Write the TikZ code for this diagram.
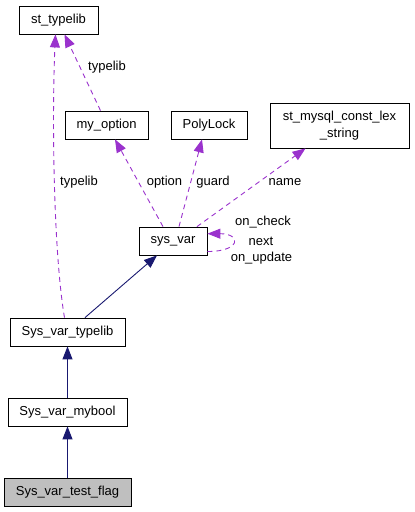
\documentclass[tikz,border=0pt]{standalone}
\usepackage{fontspec}
\setmainfont{Liberation Sans}
\usetikzlibrary{arrows.meta}
\definecolor{viola}{HTML}{9A32CD}
\definecolor{notte}{HTML}{191970}
\definecolor{grigio}{HTML}{BFBFBF}

\begin{document}
\begin{tikzpicture}[x=1pt, y=-1pt,
    classe/.style={draw=black, line width=0.8pt, fill=white, inner sep=0pt, minimum height=28pt, align=center, font=\fontsize{13}{17}\selectfont},
    etichetta/.style={inner sep=0pt, font=\fontsize{13}{15}\selectfont},
    dipende/.style={draw=viola, line width=0.9pt, dash pattern=on 5pt off 4pt, -{Triangle[length=13pt,width=10pt]}},
    eredita/.style={draw=notte, line width=0.9pt, -{Triangle[length=13pt,width=10pt]}}]
        \useasboundingbox (0,0) rectangle (415,512);

        % Nodi
        \node[classe, minimum width=79pt] (sttypelib) at (58.5,20) {st\_typelib};
        \node[classe, minimum width=83pt] (myoption) at (106.5,125) {my\_option};
        \node[classe, minimum width=76pt] (polylock) at (209,125) {PolyLock};
        \node[classe, minimum width=139pt, minimum height=45pt] (stmysql) at (339.5,125.5) {st\_mysql\_const\_lex\\\_string};
        \node[classe, minimum width=68pt] (sysvar) at (173,241) {sys\_var};
        \node[classe, minimum width=115pt] (svtypelib) at (67.5,332) {Sys\_var\_typelib};
        \node[classe, minimum width=119pt] (svmybool) at (67.5,412) {Sys\_var\_mybool};
        \node[classe, fill=grigio, minimum width=127pt] (svtestflag) at (67.5,492) {Sys\_var\_test\_flag};

        % Etichette
        \node[etichetta] (lbltypelibA) at (107,67) {typelib};
        \node[etichetta] (lbltypelibB) at (79,182) {typelib};
        \node[etichetta] (lbloption) at (164.5,182) {option};
        \node[etichetta] (lblguard) at (213,182) {guard};
        \node[etichetta] (lblname) at (285,182) {name};
        \node[etichetta] (lbloncheck) at (263,222) {on\_check};
        \node[etichetta] (lblnext) at (261,241) {next};
        \node[etichetta] (lblonupdate) at (261.5,258) {on\_update};

        % Archi
        \draw[dipende] ([xshift=-6pt]myoption.north) -- ([xshift=6pt]sttypelib.south); % da my_option a st_typelib
        \draw[dipende] ([xshift=-3pt]svtypelib.north) .. controls (53,250) and (52,110) .. ([xshift=-3pt]sttypelib.south);
        \draw[dipende] ([xshift=-10pt]sysvar.north) -- ([xshift=8.5pt]myoption.south);
        \draw[dipende] ([xshift=6pt]sysvar.north) -- ([xshift=-7pt]polylock.south);
        \draw[dipende] ([xshift=24pt]sysvar.north) -- ([xshift=-34pt]stmysql.south);
        \draw[dipende] (sysvar.-17) .. controls +(34,0) and +(34,0) .. (sysvar.12); % anello su sys_var
        \draw[eredita] ([xshift=17.5pt]svtypelib.north) -- ([xshift=-16pt]sysvar.south);
        \draw[eredita] (svmybool) -- (svtypelib);
        \draw[eredita] (svtestflag) -- (svmybool);

    \end{tikzpicture}
\end{document}
